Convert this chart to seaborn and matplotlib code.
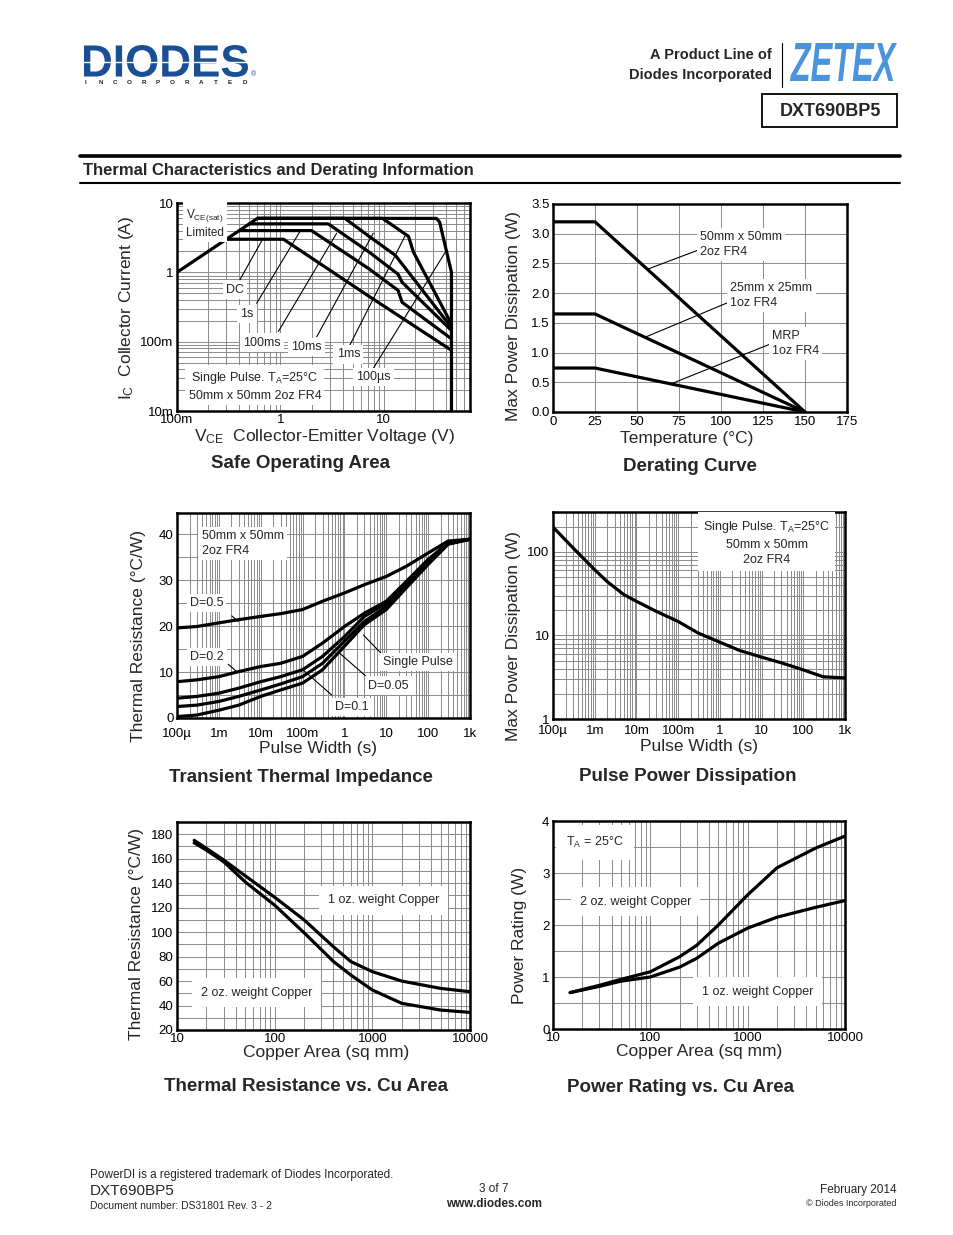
import numpy as np
import seaborn as sns
import matplotlib
matplotlib.use("Agg")
import matplotlib.pyplot as plt
from matplotlib.ticker import LogLocator, MultipleLocator, NullFormatter
from matplotlib.textpath import TextPath
from matplotlib.patches import PathPatch, Rectangle
from matplotlib.font_manager import FontProperties
from matplotlib.transforms import Affine2D
from matplotlib.lines import Line2D

# ---------------- data ----------------

# Safe Operating Area: VCE (V) vs IC (A)
soa_sat_v = [0.1, 0.6]
soa_sat_i = [1.0, 6.0]
soa_dc_v = [0.3, 1.07, 7.2, 45]
soa_dc_i = [3.0, 3.0, 0.45, 0.075]
soa_1s_v = [0.4, 2.0, 7.2, 13.7, 15.0, 45]
soa_1s_i = [4.0, 4.0, 1.12, 0.55, 0.37, 0.11]
soa_100ms_v = [0.5, 2.9, 7.2, 13.7, 15.0, 45]
soa_100ms_i = [5.0, 5.0, 1.96, 0.94, 0.72, 0.145]
soa_10ms_v = [0.6, 4.2, 7.2, 12.9, 45]
soa_10ms_i = [6.0, 6.0, 3.3, 1.76, 0.16]
soa_1ms_v = [0.6, 9.7, 17.3, 19.3, 45]
soa_1ms_i = [6.0, 6.0, 3.3, 1.96, 0.18]
soa_100us_v = [0.6, 32.2, 34.6, 45, 45]
soa_100us_i = [6.0, 6.0, 5.3, 1.0, 0.01]

# Derating curve: temperature (C) vs max power (W)
der_temp = [0, 25, 150]
der_50x50_2oz = [3.2, 3.2, 0.0]
der_25x25_1oz = [1.65, 1.65, 0.0]
der_mrp_1oz = [0.74, 0.74, 0.0]

# Transient thermal impedance: pulse width (s) vs Rth (C/W)
tti_t = [1e-4, 3e-4, 1e-3, 3e-3, 1e-2, 3e-2, 1e-1, 3e-1, 1, 3, 10, 30, 100, 300, 1000]
tti_d05 = [19.6, 19.9, 20.7, 21.4, 22.1, 22.7, 23.6, 25.4, 27.2, 29.0, 30.8, 33.0, 35.9, 38.5, 38.9]
tti_d02 = [7.9, 8.3, 9.0, 10.1, 11.2, 11.9, 13.4, 16.3, 19.9, 22.8, 25.4, 29.7, 34.5, 38.1, 38.9]
tti_d01 = [4.3, 4.7, 5.4, 6.5, 7.9, 9.0, 10.5, 13.4, 17.7, 22.1, 25.0, 29.0, 34.1, 38.0, 38.9]
tti_d005 = [2.5, 2.8, 3.6, 4.7, 6.1, 7.4, 9.0, 11.9, 16.7, 21.0, 24.3, 28.7, 33.7, 37.9, 38.9]
tti_single = [0.3, 0.65, 1.7, 2.8, 4.7, 6.1, 7.6, 10.5, 15.6, 20.3, 23.6, 28.3, 33.4, 37.8, 38.9]

# Pulse power dissipation: pulse width (s) vs max power (W)
ppd_t = [1e-4, 3e-4, 1e-3, 2e-3, 5e-3, 1e-2, 3e-2, 1e-1, 3e-1, 1, 3, 10, 30, 100, 300, 1000]
ppd_p = [198, 112, 61, 44, 30.8, 25.6, 19.4, 14.7, 10.7, 8.3, 6.6, 5.5, 4.7, 3.87, 3.2, 3.1]

# Thermal resistance vs copper area (sq mm)
cu_area = [15, 20, 30, 50, 100, 200, 400, 600, 1000, 2000, 5000, 10000]
rth_1oz = [175, 168.5, 159, 146, 128.5, 110, 88, 76, 67.7, 60, 54, 51.3]
rth_2oz = [173, 167, 157.6, 141, 122, 99.5, 76, 65, 52.7, 41.8, 36.3, 34.4]

# Power rating vs copper area (sq mm)
pr_area = [15, 30, 50, 100, 200, 300, 500, 1000, 2000, 5000, 10000]
pr_2oz = [0.70, 0.84, 0.955, 1.10, 1.39, 1.61, 2.0, 2.58, 3.10, 3.48, 3.71]
pr_1oz = [0.70, 0.82, 0.92, 1.00, 1.19, 1.36, 1.65, 1.94, 2.15, 2.34, 2.47]

decade_v = [0.1, 1, 10]
decade_v_labels = ["100m", "1", "10"]
decade_i = [0.01, 0.1, 1, 10]
decade_i_labels = ["10m", "100m", "1", "10"]
pulse_ticks = [1e-4, 1e-3, 1e-2, 1e-1, 1, 10, 100, 1000]
pulse_labels = ["100\u00b5", "1m", "10m", "100m", "1", "10", "100", "1k"]
cu_ticks = [10, 100, 1000, 10000]
cu_labels = ["10", "100", "1000", "10000"]

# ---------------- figure ----------------
sns.set_theme(context="paper", style="white")
plt.rcParams["font.family"] = ["Liberation Sans", "DejaVu Sans"]
plt.rcParams["mathtext.default"] = "regular"

W, H = 954, 1235
fig = plt.figure(figsize=(W / 100, H / 100), dpi=100)
fig.patch.set_facecolor("white")

LBL = 12.5
TTL = 13.5
ANN = 9
box = dict(boxstyle="square,pad=0.25", fc="white", ec="none")


def make_axes(l, t, r, b):
    return fig.add_axes([l / W, 1 - b / H, (r - l) / W, (b - t) / H])


def curve(ax, x, y):
    sns.lineplot(x=x, y=y, ax=ax, color="black", linewidth=2.3,
                 estimator=None, sort=False, legend=False)


def style(ax, logx=False, logy=False, xpad=3):
    for s in ax.spines.values():
        s.set_linewidth(1.8)
        s.set_color("black")
    if logx:
        ax.set_xscale("log")
        ax.xaxis.set_minor_locator(LogLocator(base=10, subs=np.arange(2, 10), numticks=30))
        ax.xaxis.set_minor_formatter(NullFormatter())
    if logy:
        ax.set_yscale("log")
        ax.yaxis.set_minor_locator(LogLocator(base=10, subs=np.arange(2, 10), numticks=30))
        ax.yaxis.set_minor_formatter(NullFormatter())
    ax.tick_params(which="both", length=0, labelsize=9.5, colors="black")
    ax.tick_params(axis="x", pad=xpad)
    ax.tick_params(axis="y", pad=2.5)
    ax.set_axisbelow(True)
    ax.grid(True, which="both", color="#8a8a8a", linewidth=0.7)
    ax.set_xlabel("")
    ax.set_ylabel("")


def labels(ax, ylab, yx, yy, xlab, xx, xy, title, tx, ty):
    ax.text(yx, yy, ylab, transform=ax.transAxes, rotation=90, ha="center",
            va="center", fontsize=LBL)
    ax.text(xx, xy, xlab, transform=ax.transAxes, ha="center", va="center",
            fontsize=LBL)
    ax.text(tx, ty, title, transform=ax.transAxes, ha="center", va="center",
            fontsize=TTL, fontweight="bold")


def leader(ax, p0, p1, trans=None):
    t = ax.transAxes if trans is None else trans
    ax.annotate("", xy=p1, xytext=p0, xycoords=t, textcoords=t,
                arrowprops=dict(arrowstyle="-", lw=0.8, color="black",
                                shrinkA=0, shrinkB=0))


# ---- Safe Operating Area ----
ax1 = make_axes(177, 203, 470, 411)
style(ax1, logx=True, logy=True, xpad=2)
for v, i in [(soa_sat_v, soa_sat_i), (soa_dc_v, soa_dc_i), (soa_1s_v, soa_1s_i),
             (soa_100ms_v, soa_100ms_i), (soa_10ms_v, soa_10ms_i),
             (soa_1ms_v, soa_1ms_i), (soa_100us_v, soa_100us_i)]:
    curve(ax1, v, i)
ax1.set_xlim(0.1, 68)
ax1.set_ylim(0.01, 10)
ax1.set_xticks(decade_v, decade_v_labels)
ax1.set_yticks(decade_i, decade_i_labels)
ax1.text(0.03, 0.905, "V$_\\mathregular{CE(sat)}$\nLimited", transform=ax1.transAxes,
         ha="left", va="center", fontsize=8.5, linespacing=1.3, bbox=box)
soa_notes = [("DC", (0.198, 0.584), (0.215, 0.632), (0.289, 0.818)),
             ("1s", (0.238, 0.466), (0.272, 0.518), (0.420, 0.864)),
             ("100ms", (0.289, 0.329), (0.346, 0.382), (0.545, 0.855)),
             ("10ms", (0.443, 0.309), (0.477, 0.357), (0.670, 0.855)),
             ("1ms", (0.585, 0.272), (0.590, 0.317), (0.778, 0.841)),
             ("100\u00b5s", (0.670, 0.165), (0.670, 0.205), (0.915, 0.762))]
for s, pos, p0, p1 in soa_notes:
    leader(ax1, p0, p1)
    ax1.text(pos[0], pos[1], s, transform=ax1.transAxes, ha="center", va="center",
             fontsize=ANN, bbox=box, zorder=5)
ax1.text(0.266, 0.121, "Single Pulse. T$_\\mathregular{A}$=25\u00b0C\n50mm x 50mm 2oz FR4",
         transform=ax1.transAxes, ha="center", va="center", fontsize=ANN,
         linespacing=1.45, bbox=box, zorder=5)
labels(ax1, "I$_\\mathregular{C}$  Collector Current (A)", -0.171, 0.495,
       "V$_\\mathregular{CE}$  Collector-Emitter Voltage (V)", 0.503, -0.125,
       "Safe Operating Area", 0.42, -0.25)

# ---- Derating Curve ----
ax2 = make_axes(553, 204, 847, 412)
style(ax2, xpad=3)
for p in [der_50x50_2oz, der_25x25_1oz, der_mrp_1oz]:
    curve(ax2, der_temp, p)
ax2.set_xlim(0, 175)
ax2.set_ylim(0, 3.5)
ax2.set_xticks(np.arange(0, 176, 25))
ax2.set_yticks(np.arange(0, 3.51, 0.5), [f"{v:.1f}" for v in np.arange(0, 3.51, 0.5)])
der_notes = [("50mm x 50mm\n2oz FR4", (87.3, 2.815), (56, 2.40), (86, 2.72)),
             ("25mm x 25mm\n1oz FR4", (105.6, 1.965), (55, 1.26), (104, 1.84)),
             ("MRP\n1oz FR4", (130.4, 1.15), (70.8, 0.48), (129, 1.14))]
for s, pos, p0, p1 in der_notes:
    leader(ax2, p0, p1, trans=ax2.transData)
    ax2.text(pos[0], pos[1], s, ha="left", va="center", fontsize=ANN,
             linespacing=1.3, bbox=box, zorder=5)
labels(ax2, "Max Power Dissipation (W)", -0.133, 0.46,
       "Temperature (\u00b0C)", 0.456, -0.125, "Derating Curve", 0.466, -0.264)

# ---- Transient Thermal Impedance ----
ax3 = make_axes(177, 513, 470, 718)
style(ax3, logx=True, xpad=7)
for r in [tti_d05, tti_d02, tti_d01, tti_d005, tti_single]:
    curve(ax3, tti_t, r)
ax3.set_xlim(1e-4, 1000)
ax3.set_ylim(0, 44.6)
ax3.set_xticks(pulse_ticks, pulse_labels)
ax3.set_yticks([0, 10, 20, 30, 40])
ax3.yaxis.set_minor_locator(MultipleLocator(5))
ax3.text(0.084, 0.852, "50mm x 50mm\n2oz FR4", transform=ax3.transAxes, ha="left",
         va="center", fontsize=ANN, linespacing=1.3, bbox=box, zorder=5)
tti_notes = [("D=0.5", (0.101, 0.56), (0.187, 0.498), (0.209, 0.470)),
             ("D=0.2", (0.101, 0.299), (0.175, 0.262), (0.204, 0.226)),
             ("Single Pulse", (0.824, 0.275), (0.708, 0.299), (0.636, 0.405)),
             ("D=0.05", (0.721, 0.158), (0.647, 0.201), (0.556, 0.315)),
             ("D=0.1", (0.596, 0.055), (0.528, 0.112), (0.431, 0.234))]
for s, pos, p0, p1 in tti_notes:
    leader(ax3, p0, p1)
    ax3.text(pos[0], pos[1], s, transform=ax3.transAxes, ha="center", va="center",
             fontsize=ANN, bbox=box, zorder=5)
labels(ax3, "Thermal Resistance (\u00b0C/W)", -0.130, 0.40,
       "Pulse Width (s)", 0.481, -0.151, "Transient Thermal Impedance", 0.423, -0.288)

# ---- Pulse Power Dissipation ----
ax4 = make_axes(553, 512, 845, 719)
style(ax4, logx=True, logy=True, xpad=4)
curve(ax4, ppd_t, ppd_p)
ax4.set_xlim(1e-4, 1000)
ax4.set_ylim(1, 300)
ax4.set_xticks(pulse_ticks, pulse_labels)
ax4.set_yticks([1, 10, 100], ["1", "10", "100"])
ax4.text(0.732, 0.852, "Single Pulse. T$_\\mathregular{A}$=25\u00b0C\n50mm x 50mm\n2oz FR4",
         transform=ax4.transAxes, ha="center", va="center", fontsize=ANN,
         linespacing=1.35, bbox=dict(boxstyle="square,pad=0.4", fc="white", ec="none"),
         zorder=5)
labels(ax4, "Max Power Dissipation (W)", -0.134, 0.40,
       "Pulse Width (s)", 0.5, -0.135, "Pulse Power Dissipation", 0.462, -0.28)

# ---- Thermal Resistance vs Cu Area ----
ax5 = make_axes(177, 822, 470, 1030)
style(ax5, logx=True, xpad=2)
curve(ax5, cu_area, rth_1oz)
curve(ax5, cu_area, rth_2oz)
ax5.set_xlim(10, 10000)
ax5.set_ylim(20, 190)
ax5.set_xticks(cu_ticks, cu_labels)
ax5.set_yticks(np.arange(20, 181, 20))
ax5.yaxis.set_minor_locator(MultipleLocator(10))
ax5.text(1306, 126, "1 oz. weight Copper", ha="center", va="center", fontsize=ANN,
         bbox=dict(boxstyle="square,pad=0.7", fc="white", ec="none"), zorder=5)
ax5.text(65.8, 50.5, "2 oz. weight Copper", ha="center", va="center", fontsize=ANN,
         bbox=dict(boxstyle="square,pad=0.7", fc="white", ec="none"), zorder=5)
labels(ax5, "Thermal Resistance (\u00b0C/W)", -0.137, 0.462,
       "Copper Area (sq mm)", 0.509, -0.106, "Thermal Resistance vs. Cu Area", 0.44, -0.274)

# ---- Power Rating vs Cu Area ----
ax6 = make_axes(553, 821, 845, 1029)
style(ax6, logx=True, xpad=2)
curve(ax6, pr_area, pr_2oz)
curve(ax6, pr_area, pr_1oz)
ax6.set_xlim(10, 10000)
ax6.set_ylim(0, 4)
ax6.set_xticks(cu_ticks, cu_labels)
ax6.set_yticks([0, 1, 2, 3, 4])
ax6.yaxis.set_minor_locator(MultipleLocator(0.5))
ax6.text(27, 3.58, "T$_\\mathregular{A}$ = 25\u00b0C", ha="center", va="center", fontsize=ANN,
         bbox=dict(boxstyle="square,pad=0.8", fc="white", ec="none"), zorder=5)
ax6.text(70, 2.45, "2 oz. weight Copper", ha="center", va="center", fontsize=ANN,
         bbox=dict(boxstyle="square,pad=0.7", fc="white", ec="none"), zorder=5)
ax6.text(1270, 0.72, "1 oz. weight Copper", ha="center", va="center", fontsize=ANN,
         bbox=dict(boxstyle="square,pad=0.7", fc="white", ec="none"), zorder=5)
labels(ax6, "Power Rating (W)", -0.116, 0.452,
       "Copper Area (sq mm)", 0.5, -0.11, "Power Rating vs. Cu Area", 0.438, -0.279)


# ---------------- page header / footer ----------------
def ftext(x, y, s, **kw):
    fig.text(x / W, 1 - y / H, s, **kw)


def fit_text(s, x0, y0, x1, y1, color, prop):
    tp = TextPath((0, 0), s, size=10, prop=prop)
    ext = tp.get_extents()
    sx = (x1 - x0) / W / ext.width
    sy = (y1 - y0) / H / ext.height
    tr = Affine2D().translate(-ext.x0, -ext.y0).scale(sx, sy).translate(x0 / W, 1 - y1 / H)
    fig.add_artist(PathPatch(tp, transform=tr + fig.transFigure, fc=color, ec="none"))


def hline(x0, x1, y, lw, color="black"):
    fig.add_artist(Line2D([x0 / W, x1 / W], [1 - y / H, 1 - y / H], color=color, lw=lw))


fit_text("DIODES", 84, 45, 248, 77, "#1b4f94",
         FontProperties(family="Liberation Sans", weight="bold"))
hline(84, 248, 61.5, 1.0, color="white")
ftext(251, 75, "\u00ae", fontsize=5, color="#1b4f94", ha="left", va="center")
for k, ch in enumerate("INCORPORATED"):
    ftext(86 + k * 14.4, 83, ch, fontsize=4.5, fontweight="bold", ha="center",
          va="center", color="#222222")

ftext(772, 55, "A Product Line of", fontsize=10.5, fontweight="bold", ha="right", va="center")
ftext(772, 75, "Diodes Incorporated", fontsize=10.5, fontweight="bold", ha="right", va="center")
fig.add_artist(Line2D([782 / W, 782 / W], [1 - 43 / H, 1 - 87 / H], color="black", lw=0.8))
fit_text("ZETEX", 790, 43, 897, 81, "#4a93dd",
         FontProperties(family="Liberation Sans", weight="bold", style="italic"))
fig.add_artist(Rectangle((762 / W, 1 - 127 / H), (897 - 762) / W, (127 - 94) / H,
                         transform=fig.transFigure, fill=False, ec="black", lw=1.3))
ftext(830, 111, "DXT690BP5", fontsize=13, fontweight="bold", ha="center", va="center")

hline(80, 900, 156, 2.6)
ftext(83, 170, "Thermal Characteristics and Derating Information", fontsize=12,
      fontweight="bold", ha="left", va="center")
hline(80, 900, 183, 1.5)

ftext(90, 1175, "PowerDI is a registered trademark of Diodes Incorporated.", fontsize=8.5,
      ha="left", va="center")
ftext(90, 1191, "DXT690BP5", fontsize=11, ha="left", va="center")
ftext(90, 1206, "Document number: DS31801 Rev. 3 - 2", fontsize=7.5, ha="left", va="center")
ftext(494, 1189, "3 of 7", fontsize=8.5, ha="center", va="center")
ftext(494, 1204, "www.diodes.com", fontsize=8.5, fontweight="bold", ha="center", va="center")
ftext(897, 1190, "February 2014", fontsize=8.5, ha="right", va="center")
ftext(897, 1204, "\u00a9 Diodes Incorporated", fontsize=6.5, ha="right", va="center")

fig.savefig("out.png", dpi=100, facecolor="white")
